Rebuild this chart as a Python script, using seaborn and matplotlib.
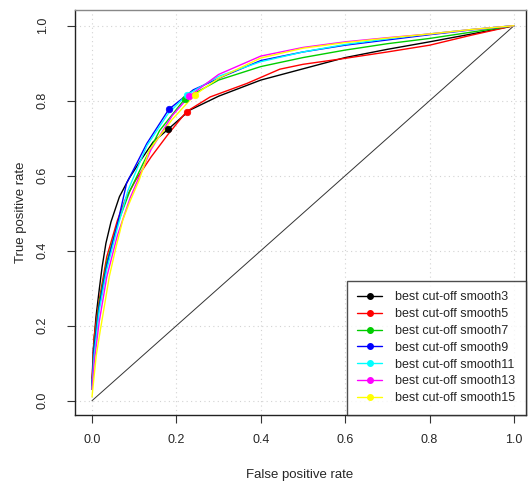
import matplotlib
matplotlib.use("Agg")
import matplotlib.pyplot as plt
import seaborn as sns
import pandas as pd
from matplotlib.lines import Line2D

sns.set_style("white")
plt.rcParams['font.family'] = ['Liberation Sans', 'DejaVu Sans']

# ---- data ----
series_names = ["smooth3", "smooth5", "smooth7", "smooth9", "smooth11", "smooth13", "smooth15"]
series_colors = ["#000000", "#FF0000", "#00CD00", "#0000FF", "#00FFFF", "#FF00FF", "#FFFF00"]

fpr_s3 = [0, 0.003, 0.0095, 0.017, 0.024, 0.033, 0.045, 0.065, 0.088, 0.116, 0.145, 0.181, 0.232, 0.3, 0.4, 0.5, 0.6, 0.7, 0.8, 0.9, 1]
tpr_s3 = [0.03, 0.135, 0.224, 0.295, 0.357, 0.42, 0.477, 0.544, 0.593, 0.642, 0.69, 0.7245, 0.775, 0.812, 0.855, 0.885, 0.915, 0.937, 0.957, 0.978, 1]

fpr_s5 = [0, 0.005, 0.017, 0.035, 0.06, 0.08, 0.104, 0.14, 0.18, 0.224, 0.28, 0.367, 0.445, 0.5, 0.6, 0.7, 0.8, 0.9, 1]
tpr_s5 = [0.06, 0.171, 0.268, 0.384, 0.48, 0.54, 0.589, 0.65, 0.71, 0.771, 0.81, 0.846, 0.884, 0.897, 0.913, 0.93, 0.948, 0.975, 1]

fpr_s7 = [0, 0.005, 0.017, 0.035, 0.06, 0.09, 0.12, 0.16, 0.22, 0.3, 0.4, 0.5, 0.6, 0.7, 0.8, 0.9, 1]
tpr_s7 = [0.04, 0.15, 0.26, 0.37, 0.47, 0.56, 0.63, 0.72, 0.805, 0.855, 0.891, 0.915, 0.935, 0.952, 0.966, 0.983, 1]

fpr_s9 = [0, 0.005, 0.017, 0.035, 0.06, 0.082, 0.13, 0.182, 0.24, 0.319, 0.4, 0.5, 0.6, 0.7, 0.8, 0.9, 1]
tpr_s9 = [0.04, 0.14, 0.25, 0.36, 0.47, 0.58, 0.686, 0.777, 0.829, 0.869, 0.907, 0.93, 0.948, 0.962, 0.976, 0.989, 1]

fpr_s11 = [0, 0.005, 0.017, 0.035, 0.06, 0.085, 0.13, 0.18, 0.224, 0.3, 0.4, 0.5, 0.6, 0.7, 0.8, 0.9, 1]
tpr_s11 = [0.03, 0.12, 0.24, 0.35, 0.46, 0.56, 0.68, 0.765, 0.815, 0.865, 0.904, 0.93, 0.95, 0.965, 0.978, 0.99, 1]

fpr_s13 = [0, 0.005, 0.017, 0.035, 0.06, 0.09, 0.14, 0.19, 0.231, 0.3, 0.4, 0.5, 0.6, 0.7, 0.8, 0.9, 1]
tpr_s13 = [0.03, 0.10, 0.21, 0.33, 0.44, 0.54, 0.67, 0.76, 0.8125, 0.87, 0.919, 0.942, 0.957, 0.968, 0.978, 0.99, 1]

fpr_s15 = [0, 0.01, 0.02, 0.029, 0.041, 0.057, 0.073, 0.088, 0.112, 0.136, 0.19, 0.243, 0.3, 0.4, 0.5, 0.6, 0.7, 0.8, 0.9, 1]
tpr_s15 = [0.01, 0.12, 0.19, 0.25, 0.331, 0.41, 0.482, 0.526, 0.589, 0.669, 0.75, 0.815, 0.86, 0.914, 0.94, 0.955, 0.967, 0.978, 0.99, 1]

best_fpr = [0.181, 0.224, 0.22, 0.182, 0.224, 0.231, 0.243]
best_tpr = [0.7245, 0.771, 0.805, 0.777, 0.815, 0.8125, 0.815]

diag = [0, 1]
ticks = [0.0, 0.2, 0.4, 0.6, 0.8, 1.0]
tick_labels = ["0.0", "0.2", "0.4", "0.6", "0.8", "1.0"]

curves_fpr = [fpr_s3, fpr_s5, fpr_s7, fpr_s9, fpr_s11, fpr_s13, fpr_s15]
curves_tpr = [tpr_s3, tpr_s5, tpr_s7, tpr_s9, tpr_s11, tpr_s13, tpr_s15]

# ---- figure ----
fig = plt.figure(figsize=(5.28, 4.84), dpi=100)
ax = fig.add_axes([74.5 / 528, 1 - 415 / 484, (525.7 - 74.5) / 528, (415 - 10) / 484])

for t in ticks:
    ax.axvline(t, color="#d3d3d3", lw=0.8, ls=(0, (1, 3)), zorder=0)
    ax.axhline(t, color="#d3d3d3", lw=0.8, ls=(0, (1, 3)), zorder=0)

sns.lineplot(x=diag, y=diag, ax=ax, color="#333333", lw=0.7, sort=False, estimator=None)

for name, col, xs, ys in zip(series_names, series_colors, curves_fpr, curves_tpr):
    df = pd.DataFrame({"fpr": xs, "tpr": ys})
    sns.lineplot(data=df, x="fpr", y="tpr", ax=ax, color=col, lw=1.0,
                 sort=False, estimator=None)

for i, (name, col) in enumerate(zip(series_names, series_colors)):
    sns.scatterplot(x=[best_fpr[i]], y=[best_tpr[i]], ax=ax, color=col, s=22,
                    edgecolor=col, linewidth=0.5, zorder=5)

ax.set_xlim((74.5 - 92) / 422, (525.7 - 92) / 422)
ax.set_ylim((400.7 - 415) / 375, (400.7 - 10) / 375)
ax.set_xticks(ticks)
ax.set_xticklabels(tick_labels)
ax.set_yticks(ticks)
ax.set_yticklabels(tick_labels, rotation=90, va="center")
ax.tick_params(axis="x", length=6, width=0.8, color="#333333", pad=8, labelsize=9)
ax.tick_params(axis="y", length=6, width=0.8, color="#333333", pad=12.5, labelsize=9)
ax.tick_params(bottom=True, left=True)
for s in ["left", "bottom", "right"]:
    ax.spines[s].set_color("#222222")
    ax.spines[s].set_linewidth(1.0)
ax.spines["top"].set_color("#888888")
ax.spines["top"].set_linewidth(1.0)

ax.set_xlabel("False positive rate", fontsize=9.5, labelpad=16)
ax.set_ylabel("True positive rate", fontsize=9.5, labelpad=7)

handles = [Line2D([0], [0], color=c, lw=1.0, marker="o", markersize=4,
                  markerfacecolor=c, markeredgecolor=c) for c in series_colors]
labels = ["best cut-off " + n for n in series_names]
leg = ax.legend(handles, labels, loc="lower right", bbox_to_anchor=(1.0, 0.0),
                borderaxespad=0.0, frameon=True, fancybox=False, fontsize=9,
                handlelength=2.0, handletextpad=1.0, labelspacing=0.39,
                borderpad=0.85, edgecolor="#222222")
leg.get_frame().set_linewidth(1.0)

fig.savefig("out.png", dpi=100)
